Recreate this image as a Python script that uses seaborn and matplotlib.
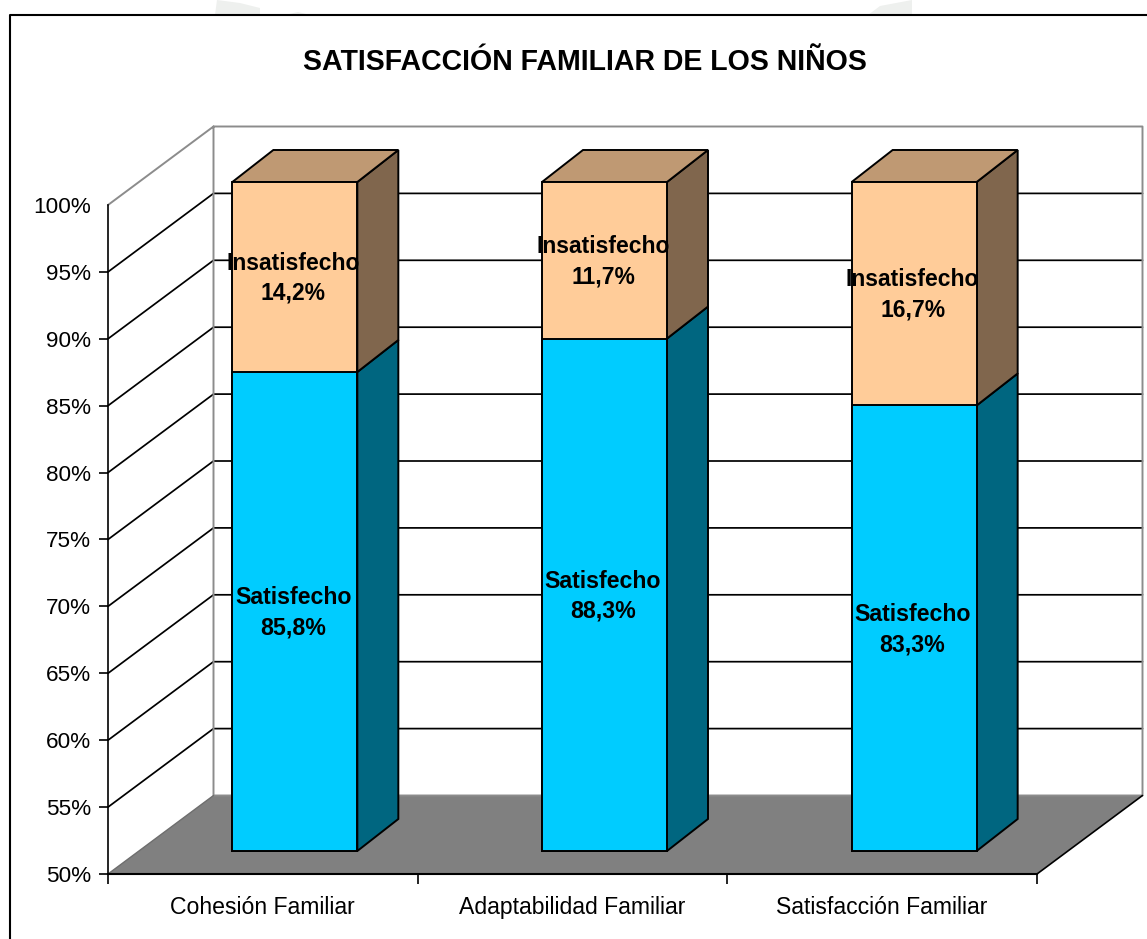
import pandas as pd
import seaborn as sns
import matplotlib.pyplot as plt
from matplotlib.lines import Line2D
from matplotlib.patches import Polygon

categorias = ['Cohesión Familiar', 'Adaptabilidad Familiar', 'Satisfacción Familiar']
satisfecho = [85.8, 88.3, 83.3]
insatisfecho = [14.2, 11.7, 16.7]
etiq_satisfecho = ['85,8%', '88,3%', '83,3%']
etiq_insatisfecho = ['14,2%', '11,7%', '16,7%']
y_ticks = [50, 55, 60, 65, 70, 75, 80, 85, 90, 95, 100]

W, H = 1147, 939
BASE = 50


def px_rect(x0, y0, x1, y1):
    # pixel box of the picture (y down) to figure fractions
    return [x0 / W, 1 - y1 / H, (x1 - x0) / W, (y1 - y0) / H]


sns.set_theme(style='white')
plt.rcParams['font.family'] = ['Liberation Sans', 'DejaVu Sans']

fig = plt.figure(figsize=(W / 100, H / 100), dpi=100, facecolor='white')

# Faint marks of the page behind the chart, above the frame
for pts in ([(215, 15), (217, 0), (240, 3), (260, 8), (260, 15)],
            [(285, 15), (298, 12), (310, 15)],
            [(868, 15), (880, 6), (912, 0), (912, 15)]):
    fig.add_artist(Polygon([(x / W, 1 - y / H) for x, y in pts], closed=True,
                           transform=fig.transFigure, facecolor='#eef0ee', edgecolor='none'))

# Frame of the chart, it runs off the picture on the right and at the bottom
fig.add_artist(Line2D([9.5 / W, 9.5 / W, 1], [0, 1 - 15 / H, 1 - 15 / H], color='black', lw=1.5))

fig.text(585 / W, 1 - 61.5 / H, 'SATISFACCIÓN FAMILIAR DE LOS NIÑOS',
         ha='center', va='center', fontsize=20.55, fontweight='bold', color='black')

# Main axes: the front plane with the value axis
ax = fig.add_axes(px_rect(108, 205, 1037, 874))
ax.set_xlim(-0.5, 2.5)
ax.set_ylim(50, 100)
ax.set_facecolor('none')

# Depth of the walls, in data units
wall_dx = 105.5 / (929 / 3)
wall_dy = 78.5 / (669 / 50)

# Floor
ax.add_patch(Polygon([(-0.5, 50), (2.5, 50), (2.5 + wall_dx, 50 + wall_dy), (-0.5 + wall_dx, 50 + wall_dy)],
                     closed=True, facecolor='#808080', edgecolor='none', clip_on=False, zorder=1))
ax.plot([2.5, 2.5 + wall_dx], [50, 50 + wall_dy], color='black', lw=1.2, clip_on=False, zorder=2)

# Gridlines, going along the side wall and then along the back wall
for t in y_ticks[1:-1]:
    ax.plot([-0.5, -0.5 + wall_dx, 2.5 + wall_dx], [t, t + wall_dy, t + wall_dy],
            color='black', lw=1.25, clip_on=False, zorder=1.5)

# Wall outline
ax.plot([-0.5, -0.5 + wall_dx, 2.5 + wall_dx, 2.5 + wall_dx, -0.5 + wall_dx, -0.5 + wall_dx],
        [100, 100 + wall_dy, 100 + wall_dy, 50 + wall_dy, 50 + wall_dy, 100 + wall_dy],
        color='#8c8c8c', lw=1.4, clip_on=False, zorder=1.6)
ax.plot([-0.5, -0.5 + wall_dx], [50, 50 + wall_dy], color='#6e6e6e', lw=1, clip_on=False, zorder=1.6)

sns.despine(ax=ax, top=True, right=True)
ax.spines['left'].set_color('black')
ax.spines['left'].set_linewidth(1.2)
ax.spines['bottom'].set_color('black')
ax.spines['bottom'].set_linewidth(1.5)
ax.spines['bottom'].set_zorder(3)

ax.set_yticks(y_ticks)
ax.set_yticklabels([f'{t}%' for t in y_ticks])
ax.tick_params(axis='y', left=True, length=6.5, width=1.2, color='black', pad=5.5, labelsize=16.2, labelcolor='black')
ax.yaxis.get_major_ticks()[-1].tick1line.set_visible(False)

ax.set_xticks([-0.5, 0.5, 1.5, 2.5])
ax.set_xticklabels([])
ax.tick_params(axis='x', which='major', bottom=True, length=7.5, width=1.2, color='black')
ax.set_xticks([0, 1, 2], minor=True)
ax.set_xticklabels(categorias, minor=True)
ax.tick_params(axis='x', which='minor', bottom=False, length=0, pad=16, labelsize=16.6, labelcolor='black')

# Bars sit on an axes moved into the depth of the floor, measured from the base value
bar_ax = fig.add_axes(px_rect(108 + 32, 205 - 23, 1037 + 32, 874 - 23))
bar_ax.set_facecolor('none')

df = pd.DataFrame({'categoria': categorias, 'satisfecho': satisfecho, 'insatisfecho': insatisfecho})
df['alto_sat'] = df['satisfecho'] - BASE
df['alto_total'] = df['satisfecho'] + df['insatisfecho'] - BASE

bar_width = 125 / (929 / 3)
sns.barplot(data=df, x='categoria', y='alto_total', color='#FFCC99', saturation=1, width=bar_width,
            edgecolor='black', linewidth=1.4, clip_on=False, ax=bar_ax, zorder=3)
sns.barplot(data=df, x='categoria', y='alto_sat', color='#00CCFF', saturation=1, width=bar_width,
            edgecolor='black', linewidth=1.4, clip_on=False, ax=bar_ax, zorder=3)
bar_ax.set_xlim(-0.5, 2.5)
bar_ax.set_ylim(0, 50)
bar_ax.axis('off')

bar_dx = 41 / (929 / 3)
bar_dy = 32 / (669 / 50)
for i, row in df.iterrows():
    r = i + bar_width / 2
    l = i - bar_width / 2
    faces = [
        ([(r, 0), (r + bar_dx, bar_dy), (r + bar_dx, row.alto_sat + bar_dy), (r, row.alto_sat)], '#006680'),
        ([(r, row.alto_sat), (r + bar_dx, row.alto_sat + bar_dy),
          (r + bar_dx, row.alto_total + bar_dy), (r, row.alto_total)], '#80664D'),
        ([(l, row.alto_total), (l + bar_dx, row.alto_total + bar_dy),
          (r + bar_dx, row.alto_total + bar_dy), (r, row.alto_total)], '#BF9973'),
    ]
    for pts, col in faces:
        bar_ax.add_patch(Polygon(pts, closed=True, facecolor=col, edgecolor='black', lw=1.4,
                                 clip_on=False, zorder=2.5))
    bar_ax.text(i - 0.005, row.alto_sat / 2 - 0.1, f'Satisfecho\n{etiq_satisfecho[i]}', ha='center', va='center',
                fontsize=16.7, fontweight='bold', color='black', linespacing=1.4, zorder=4, clip_on=False)
    bar_ax.text(i - 0.005, (row.alto_sat + row.alto_total) / 2 - 0.1, f'Insatisfecho\n{etiq_insatisfecho[i]}',
                ha='center', va='center', fontsize=16.5, fontweight='bold', color='black',
                linespacing=1.4, zorder=4, clip_on=False)

fig.savefig('out.png', dpi=100, facecolor='white')
